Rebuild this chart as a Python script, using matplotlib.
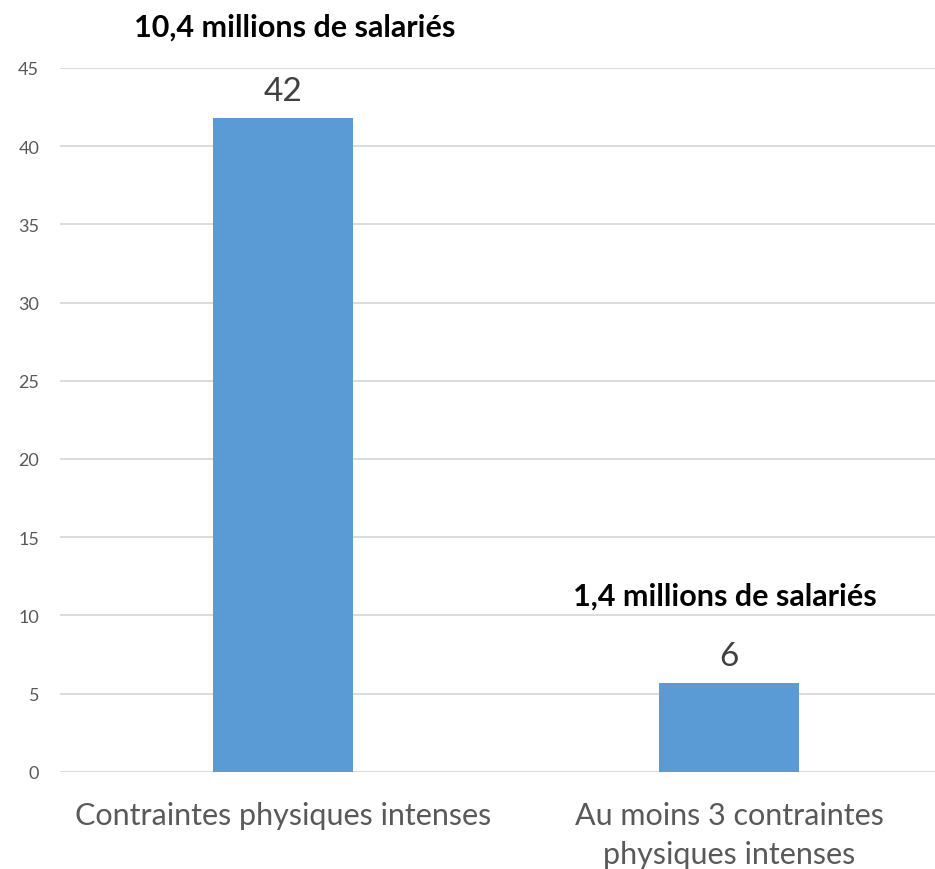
import matplotlib
matplotlib.use("Agg")
import matplotlib.pyplot as plt

categories = ["Contraintes physiques intenses", "Au moins 3 contraintes\nphysiques intenses"]
values = [41.8, 5.65]
value_labels = ["42", "6"]
notes = ["10,4 millions de salariés", "1,4 millions de salariés"]
yticks = [0, 5, 10, 15, 20, 25, 30, 35, 40, 45]

plt.rcParams['font.family'] = ['Lato', 'DejaVu Sans']

W, H = 935, 870
fig = plt.figure(figsize=(W / 100, H / 100), dpi=100)
ax = fig.add_axes([60 / W, 1 - 772.7 / H, (935 - 60) / W, (772.7 - 69) / H])

x = list(range(len(categories)))
bars = ax.bar(x, values, width=0.3125, color="#5B9BD5", zorder=3)

ax.set_ylim(0, 45)
ax.set_xlim(-0.4993, 1.4617)
ax.set_yticks(yticks)
ax.set_yticklabels([str(t) for t in yticks])
ax.set_xticks(x)
ax.set_xticklabels(categories)
ax.grid(axis="y", color="#D9D9D9", linewidth=1.3, zorder=0)
for s in ax.spines.values():
    s.set_visible(False)
ax.tick_params(axis="y", length=0, pad=15, labelsize=13, labelcolor="#595959")
ax.tick_params(axis="x", length=0, pad=21, labelsize=22, labelcolor="#595959")
for lbl in ax.get_xticklabels():
    lbl.set_linespacing(1.5)

for b, lab in zip(bars, value_labels):
    ax.annotate(lab, (b.get_x() + b.get_width() / 2, b.get_height()),
                xytext=(0, 9), textcoords="offset points", ha="center", va="bottom",
                fontsize=24, color="#404040")

note_pos = [(295, 28), (725, 597)]
for txt, (px, py) in zip(notes, note_pos):
    fig.text(px / W, 1 - py / H, txt, ha="center", va="center",
             fontsize=22, fontweight="bold", color="black")

fig.savefig("out.png", dpi=100)
